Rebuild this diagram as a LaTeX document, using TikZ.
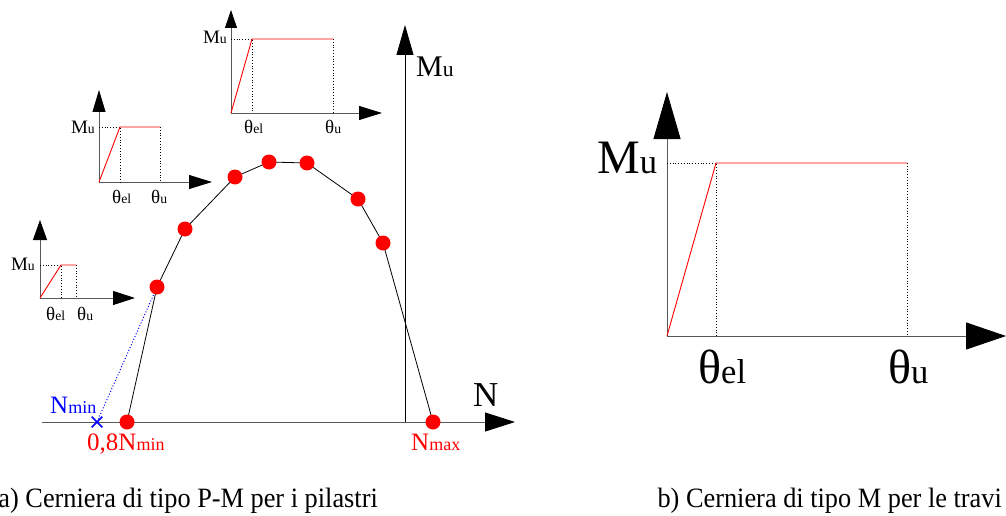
\documentclass[tikz,border=0pt]{standalone}
\usepackage{fontspec}
\newfontfamily\tms{LiberationSerif}[Extension=.ttf, UprightFont=*-Regular]
\usetikzlibrary{arrows.meta,shapes.misc,backgrounds}
\newcommand\sbx[1]{\scalebox{0.72}{#1}}
\newcommand\fsz[1]{\fontsize{#1}{#1}\tms\selectfont}
\begin{document}
\begin{tikzpicture}[x=1pt,y=-1pt,
  every node/.style={font=\tms},
  axis/.style={black!65, line width=0.9pt},
  dot/.style={circle, fill=red, inner sep=0pt, minimum size=15pt},
  curve/.style={red, line width=0.9pt},
  guide/.style={black, dotted, line width=0.8pt},
  lbl/.style={inner sep=0pt, anchor=base west},
  lble/.style={inner sep=0pt, anchor=base east},
]
\useasboundingbox (0,0) rectangle (1006,516);

% ---------- main P-M diagram ----------
\coordinate (NO) at (42,422);
\coordinate (NT) at (515,422);
\coordinate (MB) at (405,422);
\coordinate (MT) at (405,25);
\draw[axis, -{Triangle[length=30pt,width=19pt,color=black]}] (NO) -- (NT);
\draw[black, line width=0.9pt, -{Triangle[length=30pt,width=17pt]}] (MB) -- (MT);

\node[dot] (p1) at (127,422) {};
\node[dot] (p2) at (157,287) {};
\node[dot] (p3) at (185,229) {};
\node[dot] (p4) at (235,177) {};
\node[dot] (p5) at (269,162) {};
\node[dot] (p6) at (307,163) {};
\node[dot] (p7) at (358,199) {};
\node[dot] (p8) at (383,243) {};
\node[dot] (p9) at (433,422) {};
\begin{scope}[on background layer]
\draw[black, line width=0.8pt] (p1.center) -- (p2.center) -- (p3.center) -- (p4.center) -- (p5.center) -- (p6.center) -- (p7.center) -- (p8.center) -- (p9.center);
\end{scope}

\node[cross out, draw=blue, line width=1.6pt, minimum size=9pt, inner sep=0pt] (nmin) at (97,422) {};
\draw[blue, dotted, line width=1pt] (nmin.center) -- (p2);

\node[lbl] (lMu) at (416,77) {\fsz{30pt}M\sbx{u}};
\node[lbl] (lN) at (473,406) {\fsz{35pt}N};
\node[lbl, text=blue] (lNmin) at (50,413) {\fsz{25pt}N\sbx{min}};
\node[lbl, text=red] (l08) at (87,450) {\fsz{25pt}0,8N\sbx{min}};
\node[lbl, text=red] (lNmax) at (411,450) {\fsz{25pt}N\sbx{max}};

% ---------- small diagram 1 ----------
\coordinate (o1) at (40,298);
\coordinate (v1) at (40,220);
\coordinate (h1) at (135,298);
\coordinate (a1) at (40,265);
\coordinate (e1) at (61,265);
\coordinate (u1) at (76,265);
\coordinate (eb1) at (61,298);
\coordinate (ub1) at (76,298);
\draw[axis, -{Triangle[length=20pt,width=14pt,color=black]}] (o1) -- (v1);
\draw[axis, -{Triangle[length=22pt,width=14pt,color=black]}] (o1) -- (h1);
\draw[guide] (a1) -- (e1) -- (eb1);
\draw[guide] (u1) -- (ub1);
\draw[curve] (o1) -- (e1) -- (u1);
\node[lble] (m1) at (35,270) {\fsz{19pt}M\sbx{u}};
\node[lbl] (te1) at (46,320) {\fsz{19pt}θ\sbx{el}};
\node[lbl] (tu1) at (77,320) {\fsz{19pt}θ\sbx{u}};

% ---------- small diagram 2 ----------
\coordinate (o2) at (99,182);
\coordinate (v2) at (99,90);
\coordinate (h2) at (212,182);
\coordinate (a2) at (99,127);
\coordinate (e2) at (120,127);
\coordinate (u2) at (160,127);
\coordinate (eb2) at (120,182);
\coordinate (ub2) at (160,182);
\draw[axis, -{Triangle[length=22pt,width=13pt,color=black]}] (o2) -- (v2);
\draw[axis, -{Triangle[length=23pt,width=14pt,color=black]}] (o2) -- (h2);
\draw[guide] (a2) -- (e2) -- (eb2);
\draw[guide] (u2) -- (ub2);
\draw[curve] (o2) -- (e2) -- (u2);
\node[lble] (m2) at (95,133) {\fsz{19pt}M\sbx{u}};
\node[lbl] (te2) at (112,203) {\fsz{19pt}θ\sbx{el}};
\node[lbl] (tu2) at (151,203) {\fsz{19pt}θ\sbx{u}};

% ---------- small diagram 3 ----------
\coordinate (o3) at (231,113);
\coordinate (v3) at (231,10);
\coordinate (h3) at (382,113);
\coordinate (a3) at (231,39);
\coordinate (e3) at (252,39);
\coordinate (u3) at (333,39);
\coordinate (eb3) at (252,113);
\coordinate (ub3) at (333,113);
\draw[axis, -{Triangle[length=18pt,width=12pt,color=black]}] (o3) -- (v3);
\draw[axis, -{Triangle[length=23pt,width=14pt,color=black]}] (o3) -- (h3);
\draw[guide] (a3) -- (e3) -- (eb3);
\draw[guide] (u3) -- (ub3);
\draw[curve] (o3) -- (e3) -- (u3);
\node[lble] (m3) at (227,44) {\fsz{19pt}M\sbx{u}};
\node[lbl] (te3) at (244,133) {\fsz{19pt}θ\sbx{el}};
\node[lbl] (tu3) at (325,133) {\fsz{19pt}θ\sbx{u}};

% ---------- right diagram ----------
\coordinate (oR) at (667,336);
\coordinate (vR) at (667,92);
\coordinate (hR) at (1006,336);
\coordinate (aR) at (667,163);
\coordinate (eR) at (716,163);
\coordinate (uR) at (907,163);
\coordinate (ebR) at (716,336);
\coordinate (ubR) at (907,336);
\draw[axis, -{Triangle[length=47pt,width=27pt,color=black]}] (oR) -- (vR);
\draw[axis, -{Triangle[length=40pt,width=27pt,color=black]}] (oR) -- (hR);
\draw[guide] (aR) -- (eR) -- (ebR);
\draw[guide] (uR) -- (ubR);
\draw[curve] (oR) -- (eR) -- (uR);
\node[lbl] (mR) at (597,173) {\fsz{48pt}M\sbx{u}};
\node[lbl] (teR) at (698,383) {\fsz{48pt}θ\sbx{el}};
\node[lbl] (tuR) at (888,383) {\fsz{48pt}θ\sbx{u}};

% ---------- captions ----------
\node[lble] (capA) at (378,507) {\fsz{28pt}\scalebox{0.94}[1]{a) Cerniera di tipo P-M per i pilastri}};
\node[lble] (capB) at (1002,507) {\fsz{28pt}\scalebox{0.94}[1]{b) Cerniera di tipo M per le travi}};
\end{tikzpicture}
\end{document}
